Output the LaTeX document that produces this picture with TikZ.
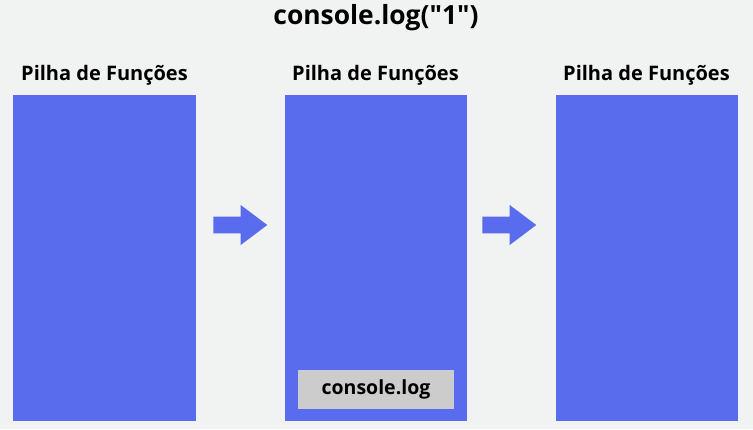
\documentclass[tikz,border=0pt]{standalone}
\usepackage{fontspec}
\setmainfont{Open Sans}[Ligatures=TeXOff]
\definecolor{bg}{HTML}{F1F2F2}
\definecolor{stackblue}{HTML}{5A6CEE}
\definecolor{boxgrey}{HTML}{CCCCCC}
\begin{document}
\begin{tikzpicture}[x=1pt,y=-1pt,
  stack/.style={fill=stackblue,draw=none,minimum width=182.5pt,minimum height=326pt,inner sep=0pt,anchor=north west},
  lbl/.style={font=\bfseries\fontsize{20}{22}\selectfont,text=black,inner sep=0pt},
  arr/.style={fill=stackblue,draw=none}]
\fill[bg] (0,0) rectangle (753,429);
\useasboundingbox (0,0) rectangle (753,429);
\node[font=\bfseries\fontsize{26.4}{30}\selectfont,inner sep=0pt] (title) at (376,18) {console.log("1")};
\node[stack] (s1) at (13,94.7) {};
\node[stack] (s2) at (284.3,94.7) {};
\node[stack] (s3) at (555.3,94.7) {};
\node[lbl] (l1) at (104.5,75) {Pilha de Funções};
\node[lbl] (l2) at (375.5,75) {Pilha de Funções};
\node[lbl] (l3) at (646.5,75) {Pilha de Funções};
\node[fill=boxgrey,minimum width=155.5pt,minimum height=38.7pt,inner sep=0pt,font=\bfseries\fontsize{19.5}{22}\selectfont] (c) at (376,389.3) {console.log};
\fill[arr] (213.3,216.7) -- (240.7,216.7) -- (240.7,205) -- (267.3,225) -- (240.7,245) -- (240.7,233.3) -- (213.3,233.3) -- cycle;
\fill[arr] (482.3,216.7) -- (509.7,216.7) -- (509.7,205) -- (536.3,225) -- (509.7,245) -- (509.7,233.3) -- (482.3,233.3) -- cycle;
\end{tikzpicture}
\end{document}
